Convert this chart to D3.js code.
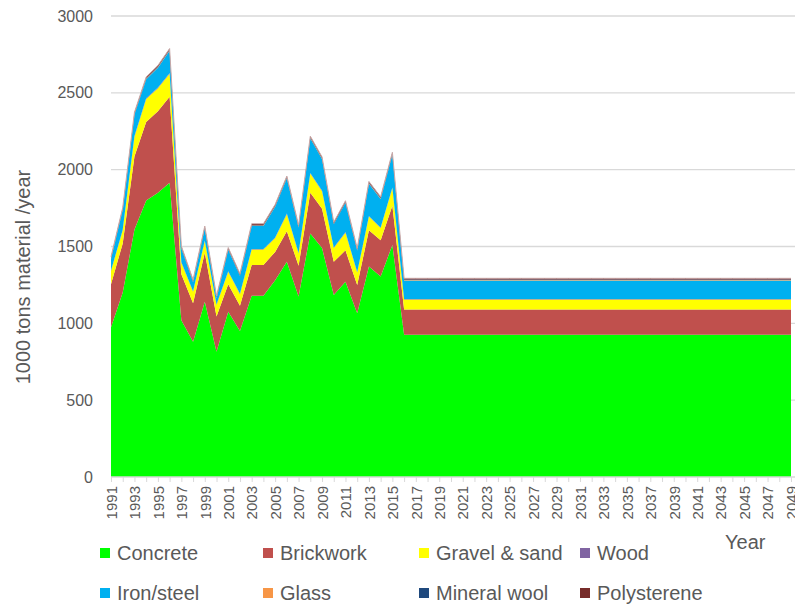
<!DOCTYPE html>
<html>
<head>
<meta charset="utf-8">
<script src="https://cdn.jsdelivr.net/npm/d3@7"></script>
<style>
  html, body { margin: 0; padding: 0; background: #fff; }
  svg { display: block; font-family: "Liberation Sans", Arial, sans-serif; }
</style>
</head>
<body>
<svg id="chart" width="795" height="605"></svg>
<script>
// Building material flows, 1991-2049 (1000 tons per year)
const years = d3.range(1991, 2050);

const concrete = [
  975, 1200, 1610, 1800, 1850, 1915, 1020, 880, 1140, 815,
  1075, 950, 1180, 1180, 1280, 1400, 1175, 1585, 1490, 1185,
  1270, 1065, 1370, 1305, 1510,
  925, 925, 925, 925, 925, 925, 925, 925, 925, 925,
  925, 925, 925, 925, 925, 925, 925, 925, 925, 925,
  925, 925, 925, 925, 925, 925, 925, 925, 925, 925,
  925, 925, 925, 925
];
const brickwork = [
  280, 320, 475, 510, 530, 560, 300, 250, 320, 230,
  180, 165, 200, 200, 185, 200, 200, 265, 255, 215,
  205, 185, 235, 235, 255,
  165, 165, 165, 165, 165, 165, 165, 165, 165, 165,
  165, 165, 165, 165, 165, 165, 165, 165, 165, 165,
  165, 165, 165, 165, 165, 165, 165, 165, 165, 165,
  165, 165, 165, 165
];
const gravelSand = [
  85, 85, 130, 150, 150, 150, 75, 75, 75, 75,
  80, 75, 100, 100, 90, 110, 80, 125, 115, 90,
  115, 80, 90, 80, 115,
  65, 65, 65, 65, 65, 65, 65, 65, 65, 65,
  65, 65, 65, 65, 65, 65, 65, 65, 65, 65,
  65, 65, 65, 65, 65, 65, 65, 65, 65, 65,
  65, 65, 65, 65
];
const wood = [
  4, 4, 4, 4, 4, 4, 4, 4, 4, 4,
  4, 4, 4, 4, 4, 4, 4, 4, 4, 4,
  4, 4, 4, 4, 4,
  4, 4, 4, 4, 4, 4, 4, 4, 4, 4,
  4, 4, 4, 4, 4, 4, 4, 4, 4, 4,
  4, 4, 4, 4, 4, 4, 4, 4, 4, 4,
  4, 4, 4, 4
];
const ironSteel = [
  75, 130, 140, 125, 130, 145, 90, 60, 80, 40,
  140, 115, 150, 150, 200, 230, 165, 225, 205, 150,
  190, 140, 210, 185, 215,
  120, 120, 120, 120, 120, 120, 120, 120, 120, 120,
  120, 120, 120, 120, 120, 120, 120, 120, 120, 120,
  120, 120, 120, 120, 120, 120, 120, 120, 120, 120,
  120, 120, 120, 120
];
const glass = [
  3, 3, 3, 3, 3, 3, 3, 3, 3, 3,
  3, 3, 3, 3, 3, 3, 3, 3, 3, 3,
  3, 3, 3, 3, 3,
  3, 3, 3, 3, 3, 3, 3, 3, 3, 3,
  3, 3, 3, 3, 3, 3, 3, 3, 3, 3,
  3, 3, 3, 3, 3, 3, 3, 3, 3, 3,
  3, 3, 3, 3
];
const mineralWool = [
  3, 3, 3, 3, 3, 3, 3, 3, 3, 3,
  3, 3, 3, 3, 3, 3, 3, 3, 3, 3,
  3, 3, 3, 3, 3,
  3, 3, 3, 3, 3, 3, 3, 3, 3, 3,
  3, 3, 3, 3, 3, 3, 3, 3, 3, 3,
  3, 3, 3, 3, 3, 3, 3, 3, 3, 3,
  3, 3, 3, 3
];
const polysterene = [
  8, 8, 8, 8, 8, 8, 8, 8, 8, 8,
  8, 8, 8, 8, 8, 8, 8, 8, 8, 8,
  8, 8, 8, 8, 8,
  8, 8, 8, 8, 8, 8, 8, 8, 8, 8,
  8, 8, 8, 8, 8, 8, 8, 8, 8, 8,
  8, 8, 8, 8, 8, 8, 8, 8, 8, 8,
  8, 8, 8, 8
];

const seriesNames = ["Concrete", "Brickwork", "Gravel & sand", "Wood",
                     "Iron/steel", "Glass", "Mineral wool", "Polysterene"];
const seriesValues = [concrete, brickwork, gravelSand, wood,
                      ironSteel, glass, mineralWool, polysterene];
const seriesColors = ["#00ff00", "#c0504d", "#ffff00", "#8064a2",
                      "#00b0f0", "#f79646", "#1f497d", "#772c2a"];
const yTicks = [0, 500, 1000, 1500, 2000, 2500, 3000];

// one row per year for d3.stack
const rows = years.map((yr, i) => {
  const r = { year: yr };
  seriesNames.forEach((n, k) => { r[n] = seriesValues[k][i]; });
  return r;
});

const svg = d3.select("#chart");
const textColor = "#595959";

const x = d3.scaleLinear().domain([1991, 2049]).range([111, 791]);
const y = d3.scaleLinear().domain([0, 3000]).range([477, 16]);

// horizontal gridlines
svg.append("g")
  .selectAll("line")
  .data(yTicks.filter(d => d > 0))
  .join("line")
  .attr("x1", 111).attr("x2", 795)
  .attr("y1", d => y(d)).attr("y2", d => y(d))
  .attr("stroke", "#d9d9d9").attr("stroke-width", 1.3);

// stacked areas
const stacked = d3.stack().keys(seriesNames)(rows);
const area = d3.area()
  .x(d => x(d.data.year))
  .y0(d => y(d[0]))
  .y1(d => y(d[1]));

svg.append("g")
  .selectAll("path")
  .data(stacked)
  .join("path")
  .attr("d", area)
  .attr("fill", (d, i) => seriesColors[i]);

// light outline along the top of the stack
const topLine = d3.line()
  .x(d => x(d.data.year))
  .y(d => y(d[1]));
svg.append("path")
  .datum(stacked[stacked.length - 1])
  .attr("d", topLine)
  .attr("fill", "none")
  .attr("stroke", "#c8a8a8")
  .attr("stroke-width", 1);

// y axis labels
const yAxis = d3.axisLeft(y).tickValues(yTicks).tickSize(0).tickPadding(0)
  .tickFormat(d3.format("d"));
const gy = svg.append("g").attr("transform", "translate(93,0)").call(yAxis);
gy.select(".domain").remove();
gy.selectAll("text")
  .attr("fill", textColor)
  .style("font-size", "16px")
  .style("font-family", "'Liberation Sans', Arial, sans-serif");

// x axis: a tick each year, a label every second year
const xAxis = d3.axisBottom(x)
  .tickValues(years)
  .tickSize(5)
  .tickPadding(4)
  .tickFormat(d => ((d - 1991) % 2 === 0 ? String(d) : ""));
const gx = svg.append("g").attr("transform", "translate(0,477)").call(xAxis);
gx.select(".domain").attr("stroke", "#d9d9d9").attr("stroke-width", 1.3)
  .attr("d", "M111,0H795");
gx.selectAll(".tick line").attr("stroke", "#d9d9d9");
gx.selectAll("text")
  .attr("fill", textColor)
  .style("font-size", "15px")
  .style("font-family", "'Liberation Sans', Arial, sans-serif")
  .attr("text-anchor", "end")
  .attr("transform", "rotate(-90)")
  .attr("x", -9).attr("y", 0)
  .attr("dx", 0)
  .attr("dy", "0.35em");

// axis titles
svg.append("text")
  .attr("transform", "translate(30,277) rotate(-90)")
  .attr("text-anchor", "middle")
  .attr("fill", textColor)
  .style("font-size", "20px")
  .text("1000 tons material /year");

svg.append("text")
  .attr("x", 725).attr("y", 549)
  .attr("fill", textColor)
  .style("font-size", "20px")
  .text("Year");

// legend, two rows of four
const legendX = [100, 263, 419, 580];
const legendY = [553, 593];
const legend = svg.append("g")
  .selectAll("g")
  .data(seriesNames)
  .join("g")
  .attr("transform", (d, i) => `translate(${legendX[i % 4]},${legendY[Math.floor(i / 4)]})`);
legend.append("rect")
  .attr("x", 0).attr("y", -5)
  .attr("width", 10).attr("height", 10)
  .attr("fill", (d, i) => seriesColors[i]);
legend.append("text")
  .attr("x", 17).attr("y", 0)
  .attr("dy", "0.35em")
  .attr("fill", textColor)
  .style("font-size", "20px")
  .text(d => d);
</script>
</body>
</html>
